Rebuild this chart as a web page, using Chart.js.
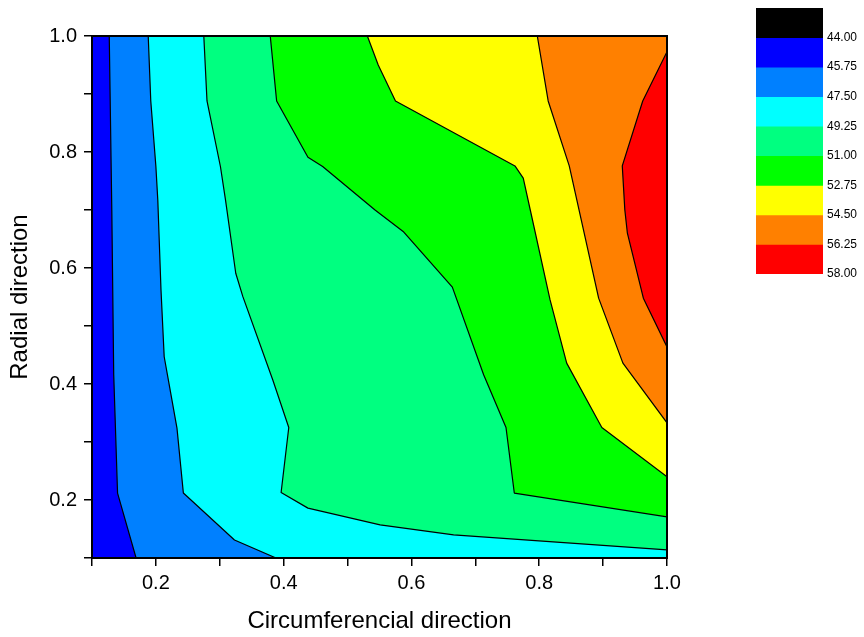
<!DOCTYPE html>
<html>
<head>
<meta charset="utf-8">
<script src="https://cdn.jsdelivr.net/npm/chart.js@4.4.0/dist/chart.umd.min.js"></script>
<style>
  html, body { margin: 0; padding: 0; background: #fff; }
  #wrap { position: relative; width: 864px; height: 637px; }
  #contour { position: absolute; left: 0; top: 0; }
  #scale { position: absolute; left: 740px; top: 0; }
</style>
</head>
<body>
<div id="wrap">
  <canvas id="contour" width="864" height="637"></canvas>
  <canvas id="scale" width="124" height="290"></canvas>
</div>
<script>
// contour levels and colours
const levels = [44.00, 45.75, 47.50, 49.25, 51.00, 52.75, 54.50, 56.25, 58.00];
const legendMin = 42.25;
const levelColors = ['#000000', '#0000ff', '#0080ff', '#00ffff', '#00ff80', '#00ff00', '#ffff00', '#ff8000', '#ff0000'];

// axes
const xRange = [0.1, 1.0];
const yRange = [0.1, 1.0];
const tickValues = [0.1, 0.2, 0.3, 0.4, 0.5, 0.6, 0.7, 0.8, 0.9, 1.0];
const tickLabels = ['', '0.2', '', '0.4', '', '0.6', '', '0.8', '', '1.0'];

// iso lines, [circumferencial, radial]
const iso4575 = [[0.127, 1.0], [0.131, 0.70], [0.134, 0.416], [0.140, 0.212], [0.169, 0.1]];
const iso4750 = [[0.188, 1.0], [0.192, 0.888], [0.200, 0.775], [0.203, 0.717], [0.208, 0.562], [0.213, 0.447],
    [0.219, 0.41], [0.233, 0.324], [0.243, 0.212], [0.323, 0.131], [0.388, 0.1]];
const iso4925 = [[0.275, 1.0], [0.280, 0.888], [0.301, 0.775], [0.309, 0.717], [0.325, 0.591], [0.336, 0.551],
    [0.383, 0.407], [0.408, 0.325], [0.396, 0.213], [0.438, 0.186], [0.551, 0.157], [0.666, 0.140], [1.0, 0.114]];
const iso5100 = [[0.379, 1.0], [0.389, 0.888], [0.438, 0.791], [0.461, 0.775], [0.543, 0.70], [0.587, 0.663],
    [0.664, 0.567], [0.713, 0.416], [0.748, 0.325], [0.761, 0.212], [1.0, 0.171]];
const iso5275 = [[0.531, 1.0], [0.548, 0.950], [0.575, 0.888], [0.762, 0.776], [0.775, 0.755], [0.786, 0.70],
    [0.817, 0.545], [0.843, 0.436], [0.898, 0.325], [1.0, 0.240]];
const iso5450 = [[0.797, 1.0], [0.814, 0.888], [0.847, 0.776], [0.893, 0.548], [0.931, 0.436], [1.0, 0.333]];
const iso5625 = [[1.0, 0.973], [0.962, 0.888], [0.930, 0.776], [0.934, 0.70], [0.938, 0.660], [0.963, 0.548], [1.0, 0.464]];

const isoLines = [iso4575, iso4750, iso4925, iso5100, iso5275, iso5450, iso5625];

Chart.defaults.font.family = '"Liberation Sans", Arial, sans-serif';
Chart.defaults.color = '#000';

// region above an iso line = the line closed along the right side of the plot
function regionFrom(line) {
    const pts = line.map(p => ({ x: p[0], y: p[1] }));
    if (line[line.length - 1][1] === yRange[0]) pts.push({ x: xRange[1], y: yRange[0] });
    if (line[0][1] === yRange[1]) pts.push({ x: xRange[1], y: yRange[1] });
    return pts;
}

const fullArea = [
    { x: xRange[0], y: yRange[1] }, { x: xRange[1], y: yRange[1] },
    { x: xRange[1], y: yRange[0] }, { x: xRange[0], y: yRange[0] }
];
const regions = [fullArea].concat(isoLines.map(regionFrom));

const datasets = regions.map((pts, i) => ({
    data: pts,
    fill: 'shape',
    backgroundColor: levelColors[i + 1],
    borderColor: i === 0 ? levelColors[1] : '#000',
    borderWidth: i === 0 ? 0 : 1.2,
    pointRadius: 0,
    order: regions.length - i
}));

const framePlugin = {
    id: 'frame',
    afterDatasetsDraw(chart) {
        const { ctx, chartArea: a } = chart;
        ctx.save();
        ctx.strokeStyle = '#000';
        ctx.lineWidth = 2;
        ctx.strokeRect(a.left, a.top, a.right - a.left, a.bottom - a.top);
        ctx.restore();
    }
};

const axisTicks = (size) => ({
    callback: (v, i) => tickLabels[i],
    autoSkip: false,
    maxRotation: 0,
    font: { size: size },
    color: '#000'
});

new Chart(document.getElementById('contour'), {
    type: 'line',
    data: { datasets: datasets },
    plugins: [framePlugin],
    options: {
        responsive: false,
        animation: false,
        devicePixelRatio: 1,
        events: [],
        layout: { padding: { left: 0, top: 36, right: 197, bottom: 0 } },
        plugins: { legend: { display: false }, tooltip: { enabled: false } },
        elements: { line: { tension: 0, borderJoinStyle: 'round' }, point: { radius: 0 } },
        scales: {
            x: {
                type: 'linear',
                min: xRange[0],
                max: xRange[1],
                afterBuildTicks: s => { s.ticks = tickValues.map(v => ({ value: v })); },
                afterFit: s => { s.height = 79; },
                ticks: Object.assign(axisTicks(20), { padding: 5 }),
                grid: { drawOnChartArea: false, color: '#000', tickLength: 8, lineWidth: 1.5 },
                border: { color: '#000', width: 2 },
                title: { display: true, text: 'Circumferencial direction', font: { size: 24 }, color: '#000', padding: { top: 0, bottom: 1 } }
            },
            y: {
                type: 'linear',
                min: yRange[0],
                max: yRange[1],
                afterBuildTicks: s => { s.ticks = tickValues.map(v => ({ value: v })); },
                afterFit: s => { s.width = 92; },
                ticks: Object.assign(axisTicks(20), { padding: 7 }),
                grid: { drawOnChartArea: false, color: '#000', tickLength: 8, lineWidth: 1.5 },
                border: { color: '#000', width: 2 },
                title: { display: true, text: 'Radial direction', font: { size: 24 }, color: '#000', padding: { top: 6, bottom: 0 } }
            }
        }
    }
});

// colour scale on the right
const bandRanges = levels.map((v, i) => [i === 0 ? legendMin : levels[i - 1], v]);

new Chart(document.getElementById('scale'), {
    type: 'bar',
    data: {
        labels: [''],
        datasets: bandRanges.map((r, i) => ({
            data: [r],
            backgroundColor: levelColors[i],
            borderWidth: 0,
            barPercentage: 1,
            categoryPercentage: 1,
            grouped: false
        }))
    },
    options: {
        responsive: false,
        animation: false,
        devicePixelRatio: 1,
        events: [],
        layout: { padding: { left: 16, top: 8, right: 0, bottom: 16 } },
        plugins: { legend: { display: false }, tooltip: { enabled: false } },
        scales: {
            x: { display: false },
            y: {
                type: 'linear',
                position: 'right',
                reverse: true,
                min: legendMin,
                max: levels[levels.length - 1],
                afterBuildTicks: s => { s.ticks = levels.map(v => ({ value: v })); },
                afterFit: s => { s.width = 41; s.paddingTop = 0; s.paddingBottom = 0; },
                ticks: { callback: v => v.toFixed(2), font: { size: 12 }, color: '#000', padding: 4 },
                grid: { display: false, drawTicks: false },
                border: { display: false }
            }
        }
    }
});
</script>
</body>
</html>
